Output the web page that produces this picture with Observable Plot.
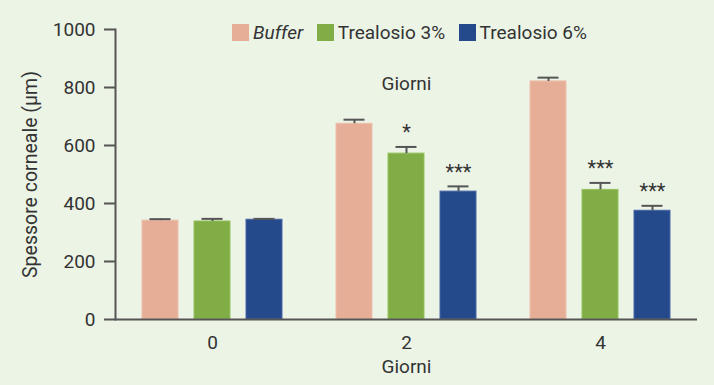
<!DOCTYPE html>
<html>
<head>
<meta charset="utf-8">
<script src="https://cdn.jsdelivr.net/npm/d3@7"></script>
<script src="https://cdn.jsdelivr.net/npm/@observablehq/plot@0.6"></script>
<style>
  html, body { margin: 0; padding: 0; background: #ecf4e6; }
  #wrap { position: relative; width: 714px; height: 385px; font-family: Roboto, sans-serif; color: #333; }
  #legend { position: absolute; top: 24px; left: 232px; display: flex; align-items: center; font-size: 19px; line-height: 17px; }
  #legend .item { display: flex; align-items: center; margin-right: 13.5px; }
  #legend .sw { width: 17px; height: 17px; margin-right: 4px; }
</style>
</head>
<body>
<div id="wrap"><div id="legend"></div></div>
<script>
const days = ["0", "2", "4"];
const series = ["Buffer", "Trealosio 3%", "Trealosio 6%"];
const buffer = [341, 675, 821];
const trealosio3 = [338, 572, 447];
const trealosio6 = [344, 441, 375];
const errBuffer = [5, 14, 13];
const errTrealosio3 = [9, 23, 24];
const errTrealosio6 = [3, 18, 17];
const starsBuffer = ["", "", ""];
const starsTrealosio3 = ["", "*", "***"];
const starsTrealosio6 = ["", "***", "***"];
const colors = ["#e6ae97", "#80ad46", "#244a8b"];
const edges = ["#edc0ad", "#95c15e", "#4a66a6"];
const yTicks = [0, 200, 400, 600, 800, 1000];

const values = [buffer, trealosio3, trealosio6];
const errs = [errBuffer, errTrealosio3, errTrealosio6];
const stars = [starsBuffer, starsTrealosio3, starsTrealosio6];
const rows = [];
days.forEach((d, i) => series.forEach((s, j) => rows.push({
  day: d, series: s, value: values[j][i], err: errs[j][i], stars: stars[j][i]
})));

const chart = Plot.plot({
  width: 714,
  height: 385,
  marginLeft: 114,
  marginRight: 16,
  marginTop: 29,
  marginBottom: 66,
  style: { background: "transparent", fontFamily: "Roboto, sans-serif", fontSize: "19px", color: "#333" },
  fx: { domain: days, padding: 0, label: "Giorni" },
  x: { domain: series, paddingInner: 0.3, paddingOuter: 0.49, axis: null },
  y: { domain: [0, 1000], label: "Spessore corneale (µm)" },
  color: { domain: series, range: colors },
  marks: [
    Plot.frame({ anchor: "left", facetAnchor: "left", stroke: "#555", strokeWidth: 2 }),
    Plot.axisY({ ticks: yTicks, tickFormat: d3.format("d"), tickSize: 11, tickPadding: 9, stroke: "#555", strokeWidth: 2, label: null, fontSize: 19 }),
    Plot.axisY({ ticks: [], tickSize: 0, label: "Spessore corneale (µm)", labelAnchor: "center", labelArrow: "none", labelOffset: 92, fontSize: 19.5 }),
    Plot.axisFx({ anchor: "bottom", tickSize: 0, tickPadding: 16, label: "Giorni", labelAnchor: "center", labelArrow: "none", labelOffset: 53, fontSize: 19 }),
    Plot.barY(rows, { fx: "day", x: "series", y: "value", fill: "series",
      stroke: d => edges[series.indexOf(d.series)], strokeWidth: 1 }),
    Plot.ruleX(rows, { fx: "day", x: "series", y1: "value", y2: d => d.value + d.err, stroke: "#555", strokeWidth: 2 }),
    Plot.tickY(rows, { fx: "day", x: "series", y: d => d.value + d.err, stroke: "#555", strokeWidth: 2, insetLeft: 7.5, insetRight: 7.5 }),
    Plot.text(rows, { fx: "day", x: "series", y: d => d.value + d.err, text: "stars", dy: -14, fontSize: 20, fill: "#333" }),
    Plot.text(["Giorni"], { fx: ["2"], y: [814], text: d => d, fontSize: 19, fill: "#333" }),
    Plot.ruleY([0], { stroke: "#555", strokeWidth: 2 })
  ]
});
document.getElementById("wrap").prepend(chart);

const legend = document.getElementById("legend");
series.forEach((s, j) => {
  const item = document.createElement("div");
  item.className = "item";
  const sw = document.createElement("div");
  sw.className = "sw";
  sw.style.background = colors[j];
  const t = document.createElement("span");
  t.textContent = s;
  if (j === 0) t.style.fontStyle = "italic";
  item.append(sw, t);
  legend.append(item);
});
</script>
</body>
</html>
